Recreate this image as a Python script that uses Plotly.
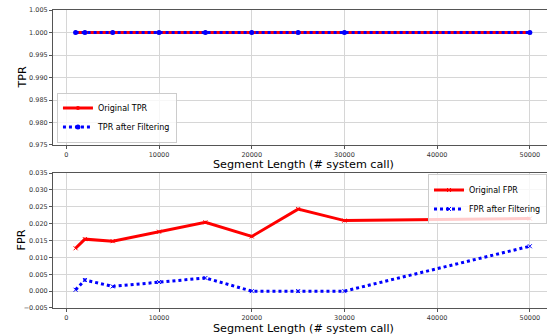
import plotly.graph_objects as go
from plotly.subplots import make_subplots

seg_len = [1000, 2000, 5000, 10000, 15000, 20000, 25000, 30000, 50000]
tpr_orig = [1.0, 1.0, 1.0, 1.0, 1.0, 1.0, 1.0, 1.0, 1.0]
tpr_filt = [1.0, 1.0, 1.0, 1.0, 1.0, 1.0, 1.0, 1.0, 1.0]
fpr_orig = [0.0127, 0.0154, 0.0148, 0.0176, 0.0204, 0.0162, 0.0243, 0.0209, 0.0215]
fpr_filt = [0.0004, 0.0033, 0.0014, 0.0027, 0.0039, 0.0000, 0.0000, 0.0000, 0.0133]

x_ticks = [0, 10000, 20000, 30000, 40000, 50000]
x_ticktext = ["0", "10000", "20000", "30000", "40000", "50000"]
tpr_ticks = [0.975, 0.98, 0.985, 0.99, 0.995, 1.0, 1.005]
tpr_ticktext = ["0.975", "0.980", "0.985", "0.990", "0.995", "1.000", "1.005"]
fpr_ticks = [-0.005, 0, 0.005, 0.01, 0.015, 0.02, 0.025, 0.03, 0.035]
fpr_ticktext = ["\u22120.005", "0.000", "0.005", "0.010", "0.015", "0.020", "0.025", "0.030", "0.035"]

x_title = "Segment Length (# system call)"
FONT = "DejaVu Sans"

fig = make_subplots(rows=2, cols=1, vertical_spacing=0.094)

fig.add_trace(go.Scatter(x=seg_len, y=tpr_orig, name="Original TPR", mode="lines+markers",
                         line=dict(color="red", width=3), marker=dict(color="red", size=4),
                         legend="legend"), row=1, col=1)
fig.add_trace(go.Scatter(x=seg_len, y=tpr_filt, name="TPR after Filtering", mode="lines+markers",
                         line=dict(color="blue", width=3, dash="dot"), marker=dict(color="blue", size=5),
                         legend="legend"), row=1, col=1)
fig.add_trace(go.Scatter(x=seg_len, y=fpr_orig, name="Original FPR", mode="lines+markers",
                         line=dict(color="red", width=3), marker=dict(color="red", size=4, symbol="x-thin",
                         line=dict(color="red", width=1)),
                         legend="legend2"), row=2, col=1)
fig.add_trace(go.Scatter(x=seg_len, y=fpr_filt, name="FPR after Filtering", mode="lines+markers",
                         line=dict(color="blue", width=3, dash="dot"), marker=dict(color="blue", size=4, symbol="x-thin",
                         line=dict(color="blue", width=1)),
                         legend="legend2"), row=2, col=1)

axis_common = dict(showgrid=True, gridcolor="#d6d6d6", gridwidth=1, showline=True, linecolor="#555555",
                   linewidth=1, mirror=True, ticks="outside", ticklen=3, tickcolor="#555555",
                   tickfont=dict(size=6.5, color="#333333", family=FONT), zeroline=False)

xr = [-1440, 51850]
title_font = dict(size=11.2, color="black", family=FONT)
fig.update_xaxes(range=xr, tickvals=x_ticks, ticktext=x_ticktext, **axis_common)
fig.update_yaxes(**axis_common)
fig.update_yaxes(range=[0.975, 1.005], tickvals=tpr_ticks, ticktext=tpr_ticktext, row=1, col=1)
fig.update_yaxes(range=[-0.005, 0.035], tickvals=fpr_ticks, ticktext=fpr_ticktext, row=2, col=1)

top_dom = [0.547, 1.0]
bot_dom = [0.0, 0.453]
fig.update_yaxes(domain=top_dom, row=1, col=1)
fig.update_yaxes(domain=bot_dom, row=2, col=1)

# axis titles as annotations for precise placement
fig.add_annotation(text=x_title, xref="paper", yref="paper", x=0.5, y=top_dom[0], xshift=3, yshift=-20,
                   showarrow=False, font=title_font, xanchor="center", yanchor="middle")
fig.add_annotation(text=x_title, xref="paper", yref="paper", x=0.5, y=bot_dom[0], xshift=3, yshift=-20,
                   showarrow=False, font=title_font, xanchor="center", yanchor="middle")
fig.add_annotation(text="TPR", xref="paper", yref="paper", x=0, y=(top_dom[0] + top_dom[1]) / 2, xshift=-31,
                   showarrow=False, font=title_font, textangle=-90, xanchor="center", yanchor="middle")
fig.add_annotation(text="FPR", xref="paper", yref="paper", x=0, y=(bot_dom[0] + bot_dom[1]) / 2, xshift=-31,
                   showarrow=False, font=title_font, textangle=-90, xanchor="center", yanchor="middle")

fig.update_layout(
    width=547, height=335,
    margin=dict(l=53, r=0, t=10, b=27),
    plot_bgcolor="white", paper_bgcolor="white",
    font=dict(family=FONT, color="black"),
    legend=dict(x=0.008, y=0.555, xanchor="left", yanchor="bottom", bgcolor="rgba(255,255,255,0.8)",
                bordercolor="#cccccc", borderwidth=1, font=dict(size=8, family=FONT),
                itemwidth=30, tracegroupgap=0),
    legend2=dict(x=1.0, y=0.448, xanchor="right", yanchor="top", bgcolor="rgba(255,255,255,0.8)",
                 bordercolor="#cccccc", borderwidth=1, font=dict(size=8, family=FONT),
                 itemwidth=30, tracegroupgap=0),
)

fig.write_html("out.html")
